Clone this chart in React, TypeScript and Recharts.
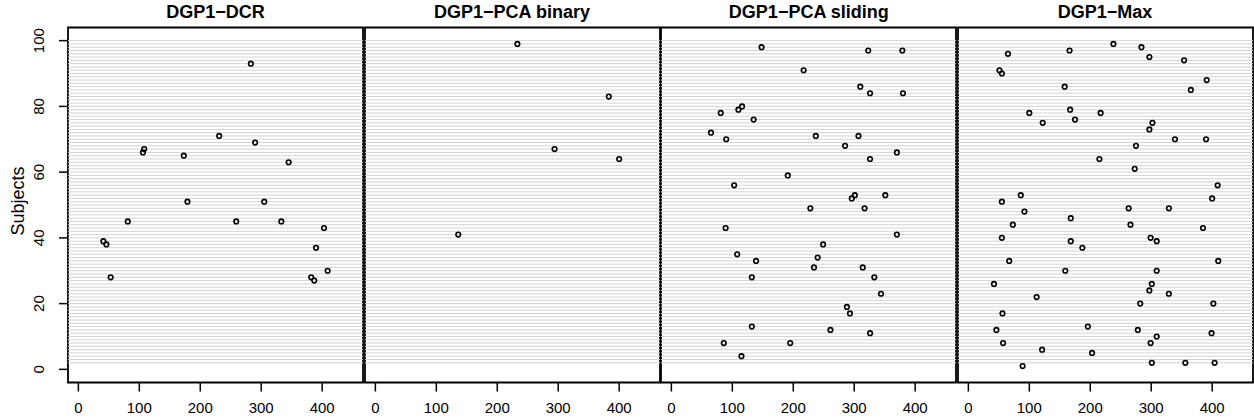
import React from 'react';
import { ScatterChart, Scatter, XAxis, YAxis, ReferenceLine, ReferenceArea } from 'recharts';

const FONT = '"Liberation Sans", Arial, Helvetica, sans-serif';

const panelTitles = ['DGP1\u2212DCR', 'DGP1\u2212PCA binary', 'DGP1\u2212PCA sliding', 'DGP1\u2212Max'];
const xTicks = [0, 100, 200, 300, 400];
const yTicks = [0, 20, 40, 60, 80, 100];
// one light line per subject row
const subjectRows = Array.from({ length: 99 }, (_, i) => i + 2);

const dcrX = [283, 108, 106, 173, 231, 290, 345, 179, 305, 81, 259, 333, 403, 41, 46, 390, 53, 409, 382, 387];
const dcrY = [93, 67, 66, 65, 71, 69, 63, 51, 51, 45, 45, 45, 43, 39, 38, 37, 28, 30, 28, 27];

const binaryX = [233, 383, 294, 400, 136];
const binaryY = [99, 83, 67, 64, 41];

const slidingX = [148, 323, 379, 217, 310, 326, 380, 116, 110, 81, 135, 65, 237, 307, 90, 285, 370, 326, 191, 103,
  301, 351, 296, 228, 317, 89, 370, 249, 108, 240, 139, 234, 314, 132, 333, 344, 288, 293, 132, 261, 326, 86, 195, 115];
const slidingY = [98, 97, 97, 91, 86, 84, 84, 80, 79, 78, 76, 72, 71, 71, 70, 68, 66, 64, 59, 56,
  53, 53, 52, 49, 49, 43, 41, 38, 35, 34, 33, 31, 31, 28, 28, 23, 19, 17, 13, 12, 11, 8, 8, 4];

const maxX = [238, 284, 166, 65, 297, 354, 51, 55, 391, 158, 365, 167, 100, 217, 175, 122, 302, 297, 339, 390,
  275, 215, 273, 409, 86, 400, 55, 263, 329, 92, 168, 266, 73, 385, 55, 299, 309, 168, 187, 67,
  410, 159, 309, 42, 301, 297, 329, 112, 282, 402, 56, 46, 196, 278, 399, 309, 57, 299, 121, 203,
  301, 356, 404, 89];
const maxY = [99, 98, 97, 96, 95, 94, 91, 90, 88, 86, 85, 79, 78, 78, 76, 75, 75, 73, 70, 70,
  68, 64, 61, 56, 53, 52, 51, 49, 49, 48, 46, 44, 44, 43, 40, 40, 39, 39, 37, 33,
  33, 30, 30, 26, 26, 24, 23, 22, 20, 20, 17, 12, 13, 12, 11, 10, 8, 8, 6, 5,
  2, 2, 2, 1];

const toPoints = (xs: number[], ys: number[]) => xs.map((x, i) => ({ x, y: ys[i] }));

const panelData = [
  toPoints(dcrX, dcrY),
  toPoints(binaryX, binaryY),
  toPoints(slidingX, slidingY),
  toPoints(maxX, maxY),
];

const X_DOMAIN: [number, number] = [-17, 467];
const Y_DOMAIN: [number, number] = [-4, 104];
const PLOT_LEFT = [68, 364.5, 661.3, 957.5];
const PLOT_W = 295;
const PLOT_TOP = 27.5;
const PLOT_BOTTOM = 382.5;
const H = 419;

const YTick = (props: any) => {
  const { x, y, payload } = props;
  return (
    <text x={x} y={y} transform={`rotate(-90, ${x}, ${y})`} textAnchor="middle" fontSize={15} fill="#000" fontFamily={FONT}>
      {payload.value}
    </text>
  );
};

const OpenDot = (props: any) => (
  <circle cx={props.cx} cy={props.cy} r={2.3} fill="none" stroke="#000" strokeWidth={1.6} />
);

function Panel({ index }: { index: number }) {
  const first = index === 0;
  const ml = first ? 68 : 15;
  const mr = 15;
  const width = ml + PLOT_W + mr;
  return (
    <div style={{ position: 'absolute', left: PLOT_LEFT[index] - ml, top: 0 }}>
      <ScatterChart
        width={width}
        height={H}
        margin={{ top: PLOT_TOP, right: mr, bottom: 0, left: first ? 0 : ml }}
      >
        <XAxis
          dataKey="x"
          type="number"
          domain={X_DOMAIN}
          ticks={xTicks}
          interval={0}
          allowDataOverflow
          axisLine={false}
          tickSize={9}
          tickMargin={11}
          tickLine={{ stroke: '#000', strokeWidth: 1.5 }}
          tick={{ fill: '#000', fontSize: 15, fontFamily: FONT }}
          height={H - PLOT_BOTTOM}
        />
        <YAxis
          dataKey="y"
          type="number"
          domain={Y_DOMAIN}
          ticks={yTicks}
          interval={0}
          allowDataOverflow
          hide={!first}
          width={68}
          axisLine={false}
          tickSize={9}
          tickMargin={14.5}
          tickLine={{ stroke: '#000', strokeWidth: 1.5 }}
          tick={<YTick />}
        />
        <ReferenceArea
          x1={X_DOMAIN[0]}
          x2={X_DOMAIN[1]}
          y1={Y_DOMAIN[0]}
          y2={Y_DOMAIN[1]}
          fill="none"
          fillOpacity={0}
          stroke="#000"
          strokeWidth={1.8}
          ifOverflow="visible"
        />
        {subjectRows.map((s) => (
          <ReferenceLine key={s} y={s} stroke="#d3d3d3" strokeWidth={1} ifOverflow="visible" />
        ))}
        <Scatter data={panelData[index]} shape={<OpenDot />} isAnimationActive={false} />
      </ScatterChart>
      <div
        style={{
          position: 'absolute',
          left: ml,
          top: 2.5,
          width: PLOT_W,
          textAlign: 'center',
          fontFamily: FONT,
          fontWeight: 'bold',
          fontSize: 18,
          lineHeight: '18px',
          whiteSpace: 'nowrap',
        }}
      >
        {panelTitles[index]}
      </div>
    </div>
  );
}

export default function App() {
  return (
    <div style={{ position: 'absolute', left: 0, top: 0, width: 1254, height: H, background: '#fff', overflow: 'hidden' }}>
      {[0, 1, 2, 3].map((i) => (
        <Panel key={i} index={i} />
      ))}
      <svg width={40} height={H} style={{ position: 'absolute', left: 0, top: 0 }}>
        <text x={24} y={201} transform="rotate(-90, 24, 201)" textAnchor="middle" fontSize={18} fontFamily={FONT} fill="#000">
          Subjects
        </text>
      </svg>
    </div>
  );
}
